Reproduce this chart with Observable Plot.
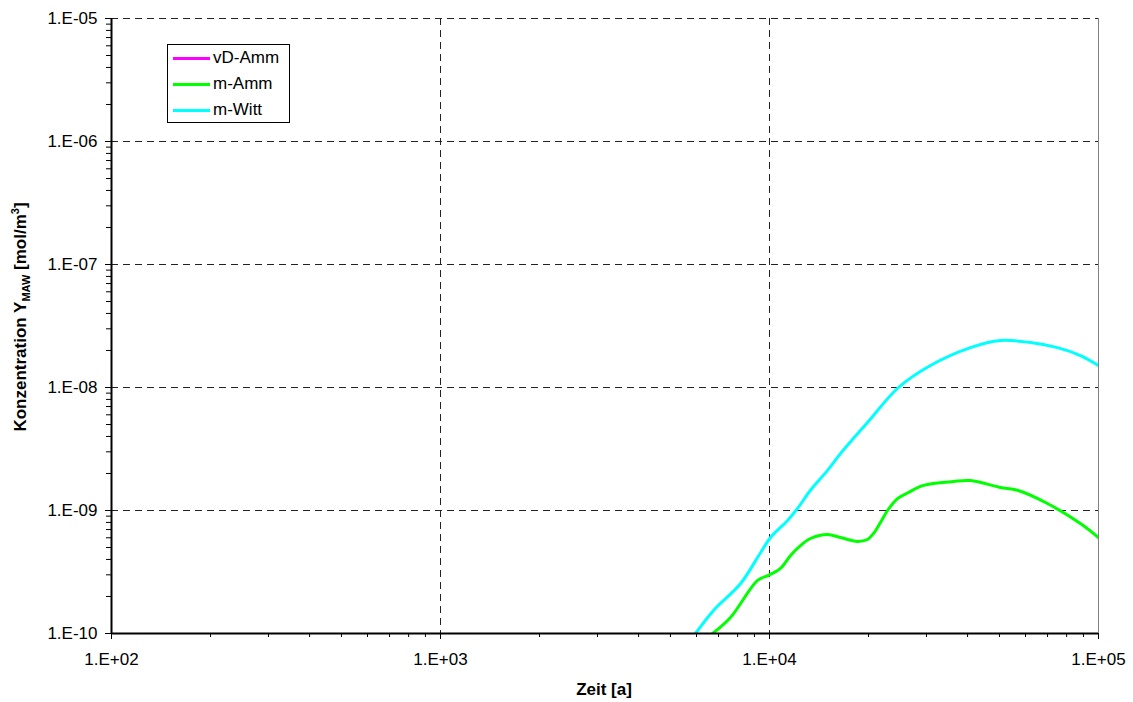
<!DOCTYPE html>
<html>
<head>
<meta charset="utf-8">
<script src="https://cdn.jsdelivr.net/npm/d3@7"></script>
<script src="https://cdn.jsdelivr.net/npm/@observablehq/plot@0.6"></script>
<style>
  html, body { margin: 0; padding: 0; background: #fff; }
  #wrap { position: relative; width: 1133px; height: 702px; font-family: Arial, "Liberation Sans", sans-serif; }
  #legend { position: absolute; left: 167px; top: 44px; width: 121px; height: 77px; border: 1px solid #000; background: #fff; box-sizing: content-box; }
  .row { position: absolute; left: 5px; height: 20px; display: flex; align-items: center; font-size: 17px; color: #000; }
  .sw { width: 37px; height: 3px; margin-right: 3px; }
</style>
</head>
<body>
<div id="wrap"></div>
<script>
// Series names and colours
const seriesNames = ["vD-Amm", "m-Amm", "m-Witt"];
const seriesColors = ["#ff00ff", "#00ff00", "#00ffff"];

// Time [a] and concentration [mol/m3] for each series
const vdAmmT = [];
const vdAmmC = [];

const mAmmT = [6715, 7610, 9200, 9930, 10800, 11590, 12420, 13320, 15010, 16430, 18500, 19850, 20700, 21730, 22840, 24490, 26430, 29380, 36230, 40820, 50350, 56700, 69950, 88100, 100000];
const mAmmC = [1.0e-10, 1.35e-10, 2.70e-10, 2.97e-10, 3.38e-10, 4.31e-10, 5.19e-10, 5.92e-10, 6.38e-10, 6.03e-10, 5.60e-10, 5.81e-10, 6.50e-10, 7.98e-10, 1.0e-9, 1.25e-9, 1.40e-9, 1.60e-9, 1.72e-9, 1.75e-9, 1.54e-9, 1.46e-9, 1.14e-9, 7.83e-10, 6.02e-10];

const mWittT = [5957, 6760, 8170, 9400, 10070, 11350, 12170, 13320, 15010, 16430, 19850, 24660, 30850, 40820, 50350, 62100, 75000, 88100, 100000];
const mWittC = [1.0e-10, 1.54e-10, 2.55e-10, 4.56e-10, 6.03e-10, 8.3e-10, 1.04e-9, 1.46e-9, 2.12e-9, 2.90e-9, 5.19e-9, 1.0e-8, 1.51e-8, 2.11e-8, 2.41e-8, 2.32e-8, 2.11e-8, 1.82e-8, 1.51e-8];

// Axis ticks
const xTicks = [1e2, 1e3, 1e4, 1e5];
const yTicks = [1e-10, 1e-9, 1e-8, 1e-7, 1e-6, 1e-5];
const minorMult = [2, 3, 4, 5, 6, 7, 8, 9];

const xMinor = xTicks.slice(0, -1).flatMap(d => minorMult.map(m => d * m));
const yMinor = yTicks.slice(0, -1).flatMap(d => minorMult.map(m => d * m));

const fmt = d => {
  const e = Math.round(Math.log10(d));
  return "1.E" + (e < 0 ? "-" : "+") + String(Math.abs(e)).padStart(2, "0");
};

const toRows = (T, C, name) => T.map((t, i) => ({t, c: C[i], name}));
const vdAmm = toRows(vdAmmT, vdAmmC, seriesNames[0]);
const mAmm = toRows(mAmmT, mAmmC, seriesNames[1]);
const mWitt = toRows(mWittT, mWittC, seriesNames[2]);

const dash = {stroke: "#222", strokeDasharray: "7,5", strokeWidth: 1};

const chart = Plot.plot({
  width: 1133,
  height: 702,
  marginLeft: 111,
  marginRight: 35,
  marginTop: 18,
  marginBottom: 69,
  x: {type: "log", domain: [1e2, 1e5], label: null},
  y: {type: "log", domain: [1e-10, 1e-5], label: null},
  style: {fontFamily: "Arial, 'Liberation Sans', sans-serif", fontSize: "17px", color: "#000", background: "#fff", overflow: "visible"},
  marks: [
    Plot.ruleX([1e3, 1e4], dash),
    Plot.ruleY(yTicks.slice(1), dash),
    Plot.ruleX([1e5], {stroke: "#808080", strokeWidth: 1}),
    Plot.line(vdAmm, {x: "t", y: "c", stroke: seriesColors[0], strokeWidth: 3, curve: "catmull-rom", clip: true}),
    Plot.line(mAmm, {x: "t", y: "c", stroke: seriesColors[1], strokeWidth: 3, curve: "catmull-rom", clip: true}),
    Plot.line(mWitt, {x: "t", y: "c", stroke: seriesColors[2], strokeWidth: 3, curve: "catmull-rom", clip: true}),
    Plot.axisX(xMinor, {tickSize: 4, tickFormat: () => "", label: null, stroke: "#000"}),
    Plot.axisX(xTicks, {tickSize: 6, tickPadding: 13, tickFormat: fmt, label: null, stroke: "#000"}),
    Plot.axisY(yMinor, {tickSize: 5, tickFormat: () => "", label: null, stroke: "#000"}),
    Plot.axisY(yTicks, {tickSize: 6, tickPadding: 8, tickFormat: fmt, label: null, stroke: "#000"}),
    Plot.ruleY([1e-10], {stroke: "#000", strokeWidth: 2}),
    Plot.ruleX([1e2], {stroke: "#000", strokeWidth: 2})
  ]
});

document.getElementById("wrap").appendChild(chart);

// Axis titles
const svg = d3.select(chart);
svg.append("text")
  .attr("x", 604).attr("y", 695)
  .attr("text-anchor", "middle")
  .attr("font-weight", "bold")
  .attr("font-size", 17)
  .attr("fill", "#000")
  .text("Zeit [a]");

const yt = svg.append("text")
  .attr("transform", "translate(26,317) rotate(-90)")
  .attr("text-anchor", "middle")
  .attr("font-weight", "bold")
  .attr("font-size", 17)
  .attr("fill", "#000");
yt.append("tspan").text("Konzentration Y");
yt.append("tspan").attr("font-size", 11).attr("dy", 4).text("MAW");
yt.append("tspan").attr("dy", -4).text(" [mol/m");
yt.append("tspan").attr("font-size", 11).attr("dy", -7).text("3");
yt.append("tspan").attr("dy", 7).text("]");

// Legend
const legend = document.createElement("div");
legend.id = "legend";
seriesNames.forEach((n, i) => {
  const row = document.createElement("div");
  row.className = "row";
  row.style.top = (3 + i * 26) + "px";
  const sw = document.createElement("div");
  sw.className = "sw";
  sw.style.background = seriesColors[i];
  row.appendChild(sw);
  const t = document.createElement("span");
  t.textContent = n;
  row.appendChild(t);
  legend.appendChild(row);
});
document.getElementById("wrap").appendChild(legend);
</script>
</body>
</html>
